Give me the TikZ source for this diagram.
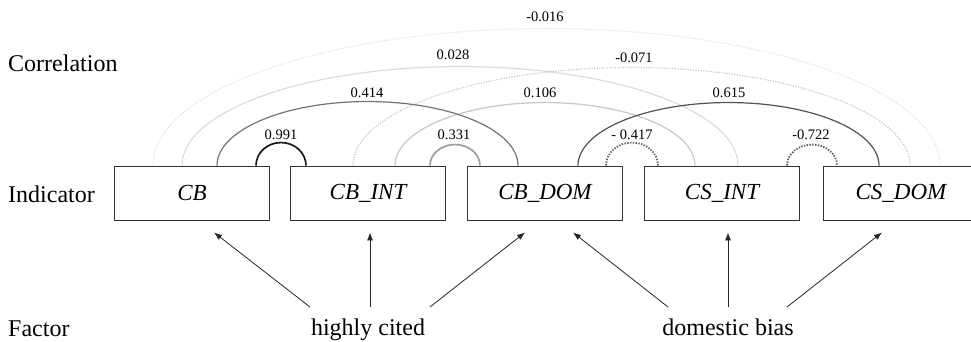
\documentclass[tikz,border=0pt]{standalone}
\usepackage{fontspec}
\setmainfont{LiberationSerif}[Extension=.ttf, UprightFont=*-Regular,
  ItalicFont=*-Italic, BoldFont=*-Bold, BoldItalicFont=*-BoldItalic]
\usetikzlibrary{arrows.meta,calc}

\begin{document}
\begin{tikzpicture}[x=1pt,y=1pt,
  indbox/.style={draw=black!80, line width=0.9pt, minimum width=155pt,
    minimum height=54pt, inner sep=0pt, font=\fontsize{23}{26}\selectfont\itshape},
  rowlabel/.style={anchor=base west, inner sep=0pt, font=\fontsize{24}{28}\selectfont},
  factorlabel/.style={anchor=base, inner sep=0pt, font=\fontsize{24}{28}\selectfont},
  coef/.style={inner sep=0pt, font=\fontsize{14.5}{16}\selectfont},
  load/.style={-{Latex[length=8pt,width=6pt]}, line width=0.8pt, draw=black!85},
  posarc/.style={line width=1.2pt, draw=#1},
  negarc/.style={line width=1.2pt, dash pattern=on 1.1pt off 1.5pt, draw=#1},
  posarcthick/.style={line width=1.7pt, draw=#1},
  negarcthick/.style={line width=1.8pt, dash pattern=on 1.4pt off 1.4pt, draw=#1}
]
\useasboundingbox (0,0) rectangle (971,342);

% row titles
\node[rowlabel] (rcor) at (8,270) {Correlation};
\node[rowlabel] (rind) at (8,139) {Indicator};
\node[rowlabel] (rfac) at (8,5) {Factor};

% indicators
\node[indbox] (cb)    at (192,149) {CB};
\node[indbox] (cbint) at (368,149) {CB\_INT};
\node[indbox] (cbdom) at (545,149) {CB\_DOM};
\node[indbox] (csint) at (722,149) {CS\_INT};
\node[indbox] (csdom) at (901,149) {CS\_DOM};

% factors
\node[factorlabel] (hc) at (368,6) {highly cited};
\node[factorlabel] (db) at (728,6) {domestic bias};

% loadings
\draw[load] ($(hc.base)+(-58,29)$) -- ([xshift=22pt,yshift=-12pt]cb.south);
\draw[load] ($(hc.base)+(2,29)$)   -- ([xshift=2pt,yshift=-12pt]cbint.south);
\draw[load] ($(hc.base)+(62,29)$)  -- ([xshift=-20pt,yshift=-12pt]cbdom.south);
\draw[load] ($(db.base)+(-60,29)$) -- ([xshift=28pt,yshift=-12pt]cbdom.south);
\draw[load] ($(db.base)+(0,29)$)   -- ([xshift=6pt,yshift=-12pt]csint.south);
\draw[load] ($(db.base)+(59,29)$)  -- ([xshift=-19pt,yshift=-12pt]csdom.south);

% correlations, faint ones first
\draw[negarc=black!12] ([xshift=-39pt]cb.north)
  arc[start angle=180, end angle=0, x radius=393.5, y radius=137];
\node[coef] (k016) at (545,325) {-0.016};

\draw[posarc=black!14] ([xshift=-10pt]cb.north)
  arc[start angle=180, end angle=0, x radius=278, y radius=99];
\node[coef] (k028) at (453,287) {0.028};

\draw[negarc=black!24] ([xshift=-15pt]cbint.north)
  arc[start angle=180, end angle=0, x radius=278.5, y radius=98];
\node[coef] (k071) at (634,284) {-0.071};

\draw[posarc=black!22] ([xshift=27pt]cbint.north)
  arc[start angle=180, end angle=0, x radius=150, y radius=63];
\node[coef] (k106) at (540,249) {0.106};

\draw[posarc=black!55] ([xshift=25pt]cb.north)
  arc[start angle=180, end angle=0, x radius=150.5, y radius=64];
\node[coef] (k414) at (367,249) {0.414};

\draw[posarc=black!68] ([xshift=33pt]cbdom.north)
  arc[start angle=180, end angle=0, x radius=150.5, y radius=63];
\node[coef] (k615) at (729,249) {0.615};

\draw[posarcthick=black!90] ([xshift=64pt]cb.north)
  arc[start angle=180, end angle=0, x radius=25, y radius=23];
\node[coef] (k991) at (281,207) {0.991};

\draw[posarcthick=black!38] ([xshift=62pt]cbint.north)
  arc[start angle=180, end angle=0, x radius=25, y radius=21];
\node[coef] (k331) at (454,207) {0.331};

\draw[negarcthick=black!62] ([xshift=61pt]cbdom.north)
  arc[start angle=180, end angle=0, x radius=26, y radius=23];
\node[coef] (k417) at (632,207) {- 0.417};

\draw[negarcthick=black!65] ([xshift=65pt]csint.north)
  arc[start angle=180, end angle=0, x radius=25, y radius=21];
\node[coef] (k722) at (811,207) {-0.722};
\end{tikzpicture}
\end{document}
